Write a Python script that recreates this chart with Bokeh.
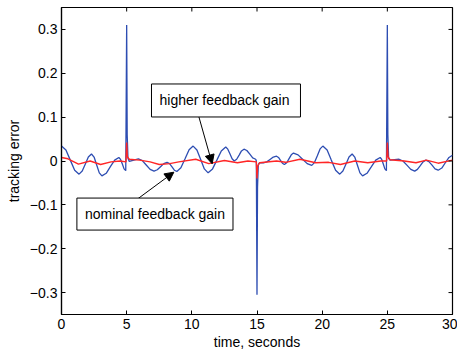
import math
from bokeh.plotting import figure
from bokeh.models import Range1d, Label, Arrow, NormalHead, FixedTicker
from bokeh.embed import file_html
from bokeh.resources import INLINE

# ---- data ----
blue_t = [0.0, 0.34, 0.675, 1.01, 1.35, 1.59, 1.83, 2.06, 2.3, 2.5, 2.7, 2.9, 3.1, 3.43, 3.75, 4.08, 4.4,
          4.53, 4.67, 4.8, 4.93, 5.0, 5.04, 5.1, 5.2, 5.55, 5.9, 6.2, 6.5, 6.8, 7.1, 7.35, 7.6, 7.85, 8.1,
          8.29, 8.48, 8.66, 8.85, 9.16, 9.48, 9.79, 10.1, 10.39, 10.68, 10.96, 11.25, 11.59, 11.93, 12.26,
          12.6, 12.76, 12.93, 13.09, 13.25, 13.44, 13.63, 13.81, 14.0, 14.22, 14.45, 14.67, 14.9, 14.95,
          15.0, 15.04, 15.1, 15.2, 15.5, 15.75, 16.0, 16.25, 16.5, 16.65, 16.8, 16.95, 17.1, 17.28, 17.45,
          17.63, 17.8, 18.15, 18.5, 18.85, 19.2, 19.41, 19.63, 19.84, 20.05, 20.38, 20.7, 21.03, 21.35,
          21.59, 21.83, 22.06, 22.3, 22.5, 22.7, 22.9, 23.1, 23.44, 23.78, 24.11, 24.45, 24.57, 24.69,
          24.81, 24.93, 25.0, 25.04, 25.1, 25.2, 25.55, 25.9, 26.2, 26.5, 26.8, 27.1, 27.31, 27.53, 27.74,
          27.95, 28.19, 28.43, 28.66, 28.9, 29.18, 29.45, 29.73, 30.0]
blue_v = [0.034, 0.025, 0.002, -0.021, -0.030, -0.023, -0.007, 0.009, 0.016, 0.009, -0.009, -0.027, -0.034,
          -0.028, -0.013, 0.002, 0.008, 0.0036, -0.007, -0.018, -0.022, 0.31, 0.06, 0.006, -0.001, 0.002,
          0.005, 0.001, -0.009, -0.019, -0.023, -0.020, -0.013, -0.006, -0.003, -0.006, -0.0135, -0.021,
          -0.024, -0.0155, 0.005, 0.0255, 0.034, 0.025, 0.0035, -0.018, -0.027, -0.018, 0.0025, 0.023,
          0.032, 0.027, 0.016, 0.005, 0.0, 0.004, 0.0135, 0.023, 0.027, 0.024, 0.0155, 0.007, 0.004, 0.0,
          -0.305, -0.06, -0.008, -0.004, -0.004, -0.002, 0.0035, 0.009, 0.011, 0.008, 0.0015, -0.005,
          -0.008, -0.004, 0.005, 0.014, 0.018, 0.014, 0.004, -0.006, -0.010, -0.0036, 0.012, 0.0276,
          0.034, 0.025, 0.002, -0.021, -0.030, -0.023, -0.007, 0.009, 0.016, 0.009, -0.009, -0.027,
          -0.034, -0.028, -0.013, 0.002, 0.008, 0.0036, -0.007, -0.018, -0.022, 0.31, 0.06, 0.006, 0.002,
          0.003, 0.004, 0.0, -0.0095, -0.019, -0.023, -0.019, -0.0105, -0.002, 0.002, -0.0014, -0.0095,
          -0.018, -0.021, -0.016, -0.004, 0.008, 0.013]

red_t = [0.0, 0.5, 1.3, 2.2, 3.0, 3.8, 4.5, 4.95, 5.0, 5.05, 5.2, 6.0, 6.8, 7.5, 8.3, 9.0, 10.3, 11.3,
         12.5, 13.5, 14.3, 14.95, 15.0, 15.05, 15.2, 16.5, 17.2, 18.3, 19.5, 20.5, 21.4, 22.5, 23.5, 24.5,
         24.95, 25.0, 25.05, 25.2, 26.3, 27.2, 28.0, 28.9, 30.0]
red_v = [0.008, 0.005, -0.007, 0.0, -0.008, -0.002, 0.0, -0.002, 0.042, 0.01, 0.004, 0.002, -0.002,
         -0.008, -0.006, -0.002, 0.004, -0.006, 0.001, -0.004, 0.0, -0.002, -0.04, -0.012, -0.004, 0.0,
         -0.003, 0.004, -0.004, -0.003, -0.008, 0.0, -0.004, 0.0, 0.0, 0.042, 0.01, 0.003, 0.0, -0.004,
         0.002, -0.005, 0.002]

x_ticks = [0, 5, 10, 15, 20, 25, 30]
x_tick_labels = ["0", "5", "10", "15", "20", "25", "30"]
y_ticks = [-0.3, -0.2, -0.1, 0.0, 0.1, 0.2, 0.3]
y_tick_labels = ["\u22120.3", "\u22120.2", "\u22120.1", "0", "0.1", "0.2", "0.3"]

x_label = "time, seconds"
y_label = "tracking error"
note_high = "higher feedback gain"
note_nominal = "nominal feedback gain"

FONT = "Liberation Sans"
X0, X1, Y0, Y1 = 0, 30, -0.35, 0.35

p = figure(width=457, height=353, output_backend="svg", toolbar_location=None,
           x_range=Range1d(X0, X1), y_range=Range1d(Y0, Y1),
           min_border_left=61, min_border_right=5, min_border_top=7, min_border_bottom=39,
           x_axis_label=x_label, y_axis_label=y_label)
p.xgrid.visible = False
p.ygrid.visible = False
p.outline_line_color = "black"
p.outline_line_width = 1.2
p.background_fill_color = "white"
p.border_fill_color = "white"

p.line(blue_t, blue_v, line_color="#2d4db2", line_width=1.3)
p.line(red_t, red_v, line_color="#ff2626", line_width=1.4)

for ax in (p.xaxis[0], p.yaxis[0]):
    ax.axis_line_color = "black"
    ax.axis_line_width = 1.2
    ax.major_tick_in = 4
    ax.major_tick_out = 0
    ax.minor_tick_in = 0
    ax.minor_tick_out = 0
    ax.major_tick_line_color = "black"
    ax.major_label_text_font = FONT
    ax.major_label_text_font_size = "14px"
    ax.major_label_text_color = "black"
    ax.axis_label_text_font = FONT
    ax.axis_label_text_font_style = "normal"
    ax.axis_label_text_font_size = "14px"
    ax.axis_label_text_color = "black"

xax = p.xaxis[0]
yax = p.yaxis[0]
xax.ticker = FixedTicker(ticks=x_ticks)
xax.major_label_overrides = dict(zip(x_ticks, x_tick_labels))
yax.ticker = FixedTicker(ticks=y_ticks)
yax.major_label_overrides = dict(zip(y_ticks, y_tick_labels))
xax.major_label_standoff = 4
xax.axis_label_standoff = 2
yax.major_label_standoff = 4
yax.axis_label_standoff = 5

# mirrored inward ticks on the top and right edges (box on)
p.scatter(x=x_ticks, y=[Y1] * len(x_ticks), marker="dash", size=8, angle=math.pi / 2,
          line_color="black", line_width=1)
p.scatter(x=[X1] * len(y_ticks), y=y_ticks, marker="dash", size=8,
          line_color="black", line_width=1)

# arrows
p.add_layout(Arrow(end=NormalHead(size=9, fill_color="black", line_color="black"),
                   x_start=10.51, y_start=0.104, x_end=11.56, y_end=-0.0064,
                   line_color="black", line_width=1))
p.add_layout(Arrow(end=NormalHead(size=9, fill_color="black", line_color="black"),
                   x_start=5.68, y_start=-0.090, x_end=8.62, y_end=-0.0255,
                   line_color="black", line_width=1))

# text boxes
for txt, x, y, pad in [(note_high, 12.62, 0.138, (8, 11, 8, 9)),
                       (note_nominal, 7.17, -0.121, (8, 8, 8, 8))]:
    p.add_layout(Label(x=x, y=y, text=txt, text_align="center", text_baseline="middle",
                       text_font=FONT, text_font_size="14px", text_color="black",
                       background_fill_color="white", border_line_color="black",
                       border_line_width=1, padding=pad))

open("out.html", "w").write(file_html(p, INLINE))
